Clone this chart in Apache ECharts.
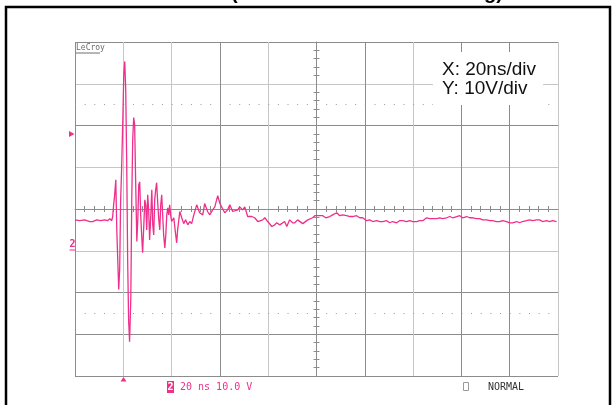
<!DOCTYPE html>
<html><head><meta charset="utf-8">
<script src="https://cdn.jsdelivr.net/npm/echarts@6/dist/echarts.min.js"></script>
<style>html,body{margin:0;padding:0;background:#fff}#c{width:615px;height:405px}</style>
</head><body><div id="c"></div>
<script>
// time (ns) and voltage (V) samples
const times = [0,1.9,4.0,6.1,7.3,9.0,10.6,12.3,13.5,14.4,15.2,15.6,16.0,16.4,16.9,17.3,17.7,18.1,18.5,18.9,19.3,19.8,20.2,20.6,21.0,21.4,21.8,22.2,22.6,23.1,23.5,23.9,24.3,24.7,25.1,25.6,26.0,26.4,26.8,27.2,27.6,28.0,28.5,28.9,29.3,29.7,30.1,30.5,30.9,31.4,31.8,32.2,32.6,33.0,33.4,33.8,34.3,34.7,35.1,35.5,35.9,36.3,36.7,37.2,37.6,38.0,38.4,38.8,39.2,39.6,40.0,40.9,41.7,42.1,42.5,43.4,44.2,45.0,45.8,46.7,47.5,48.3,49.2,50.4,51.6,52.9,53.7,54.9,55.8,57.0,57.9,59.1,59.9,60.7,62.0,63.2,64.1,65.3,66.1,67.4,68.2,69.4,70.3,71.5,73.2,74.4,75.7,76.5,77.7,78.6,79.8,81.5,82.7,83.5,84.8,85.6,86.8,87.7,88.9,90.1,91.0,92.2,93.0,94.3,95.1,96.4,97.2,98.4,99.3,100.1,101.3,102.6,103.8,105.5,106.7,108.4,109.6,110.8,112.5,113.8,115.0,116.6,117.9,119.1,120.8,122.0,123.3,124.9,126.2,127.4,129.1,130.3,131.5,133.2,134.4,135.7,137.3,138.6,139.8,141.5,142.7,144.0,145.6,146.9,148.1,149.8,151.0,152.3,153.9,155.2,156.4,158.1,159.3,160.5,162.2,163.4,164.7,166.3,167.6,168.8,170.5,171.7,172.9,174.6,175.8,177.1,178.7,180.0,181.2,182.9,184.1,185.3,187.0,188.2,189.5,191.1,192.4,193.6,195.3,196.5,197.8,199.4];
const volts = [-2.6,-2.8,-2.6,-3.0,-3.0,-2.6,-2.8,-2.6,-2.8,-2.3,-2.8,-1.8,1.0,3.2,7.0,-5.0,-12.1,-19.3,-14.5,2.2,9.4,21.4,32.2,35.3,28.6,11.8,-12.1,-26.5,-31.8,-21.7,2.2,16.6,21.9,20.2,7.0,-7.8,-2.6,5.8,6.5,-1.4,-6.2,-10.5,-3.8,2.2,1.0,-5.0,3.4,-0.2,-7.4,-1.4,4.6,-3.8,-6.2,2.2,4.6,6.3,1.0,-2.6,-5.0,1.0,3.4,-1.4,-6.2,-9.3,-6.2,-1.4,0.3,-1.4,1.0,-1.4,-3.0,-2.1,-6.2,-8.1,-5.0,-0.6,-2.1,-3.5,-2.6,-3.8,-3.0,-3.5,-1.4,1.0,-0.9,-1.4,1.3,-0.6,-1.4,-0.2,0.5,3.2,1.5,0.5,-0.9,-0.2,1.0,-0.6,-0.9,-0.2,0.5,-0.2,0.5,-1.8,-1.8,-2.1,-3.0,-3.3,-2.6,-2.1,-3.0,-4.2,-3.8,-3.3,-3.8,-3.8,-3.0,-4.2,-2.6,-3.3,-3.3,-2.6,-3.0,-3.5,-3.3,-2.6,-3.0,-2.1,-1.6,-1.4,-1.6,-1.6,-2.1,-1.8,-1.4,-0.9,-1.6,-1.4,-1.6,-1.8,-1.8,-1.6,-2.1,-2.1,-2.8,-2.6,-3.0,-2.8,-3.0,-3.0,-2.8,-3.3,-3.0,-3.3,-2.8,-2.8,-3.0,-2.8,-3.0,-3.0,-2.8,-2.8,-2.1,-2.3,-2.3,-2.3,-2.1,-2.3,-2.1,-1.8,-2.1,-1.8,-1.6,-2.1,-1.8,-2.1,-2.1,-2.3,-2.3,-2.6,-2.6,-2.8,-2.8,-3.0,-3.0,-2.8,-3.0,-3.3,-3.3,-3.0,-3.3,-3.0,-2.8,-2.6,-2.8,-2.6,-2.6,-3.0,-2.8,-3.0,-2.8,-3.0];
const dottedLevels = [25, -25];
const scaleText = ['X: 20ns/div', 'Y: 10V/div'];
const statusText = '20 ns 10.0 V';
const modeText = 'NORMAL';
const brandText = 'LeCroy';
const titleText = '(Drain at Turn-Off Switching)';

const D = '#8c8c8c', L = '#c6c6c6', PINK = '#ef2f8b';
const chart = echarts.init(document.getElementById('c'), null, {renderer: 'canvas'});
const data = times.map((t, i) => [t, volts[i]]);
const mono = '"DejaVu Sans Mono", monospace';

chart.setOption({
  animation: false,
  backgroundColor: '#ffffff',
  grid: {left: 75, top: 42, width: 483, height: 334, containLabel: false},
  xAxis: [
    {type: 'value', min: 0, max: 200, interval: 20, position: 'bottom',
     axisLine: {show: true, onZero: true, onZeroAxisIndex: 0, lineStyle: {color: D, width: 1}},
     axisTick: {show: false}, axisLabel: {show: false},
     minorTick: {show: true, splitNumber: 5, length: 3, lineStyle: {color: D, width: 1}},
     splitLine: {show: true, lineStyle: {color: [D, L, L, D, L, D, D, L, D, D, L], width: 1}}},
    {type: 'value', min: 0, max: 200, interval: 20, position: 'top',
     axisLine: {show: false, onZero: true, onZeroAxisIndex: 0},
     axisTick: {show: false}, axisLabel: {show: false},
     minorTick: {show: true, splitNumber: 5, length: 3, lineStyle: {color: D, width: 1}},
     splitLine: {show: false}}
  ],
  yAxis: [
    {type: 'value', min: -40, max: 40, interval: 10, position: 'left', offset: -241.5,
     axisLine: {show: true, onZero: false, lineStyle: {color: D, width: 1}},
     axisTick: {show: false}, axisLabel: {show: false},
     minorTick: {show: true, splitNumber: 5, length: 3, lineStyle: {color: D, width: 1}},
     splitLine: {show: true, lineStyle: {color: [D, D, D, L, D, L, D, L, D], width: 1}}},
    {type: 'value', min: -40, max: 40, interval: 10, position: 'right', offset: -241.5,
     axisLine: {show: false, onZero: false},
     axisTick: {show: false}, axisLabel: {show: false},
     minorTick: {show: true, splitNumber: 5, length: 3, lineStyle: {color: D, width: 1}},
     splitLine: {show: false}}
  ],
  series: [{
    type: 'line', data: data, xAxisIndex: 0, yAxisIndex: 0,
    showSymbol: false, symbol: 'none', smooth: false,
    lineStyle: {color: PINK, width: 1.3}, z: 5,
    markLine: {silent: true, symbol: 'none', label: {show: false},
      lineStyle: {color: '#9a9a9a', width: 1, type: [1, 8.66]},
      data: dottedLevels.map(v => ({yAxis: v}))}
  }],
  graphic: [
    {type: 'rect', shape: {x: 6, y: 7, width: 604, height: 420}, style: {fill: 'none', stroke: '#000', lineWidth: 2.5}, z: 100},
    {type: 'text', x: 367, y: -7, style: {text: titleText, font: 'bold 20px "Liberation Sans", Arial', fill: '#000', align: 'center', verticalAlign: 'middle'}, z: 100},
    {type: 'rect', shape: {x: 433, y: 52, width: 110, height: 53}, style: {fill: '#fff'}, z: 100},
    {type: 'text', x: 442, y: 70, style: {text: scaleText[0], font: '19px "Liberation Sans", Arial', fill: '#111', verticalAlign: 'middle'}, z: 101},
    {type: 'text', x: 442, y: 89, style: {text: scaleText[1], font: '19px "Liberation Sans", Arial', fill: '#111', verticalAlign: 'middle'}, z: 101},
    {type: 'text', x: 76, y: 48, style: {text: brandText, font: '8px ' + mono, fill: '#6e6e6e', verticalAlign: 'middle'}, z: 101},
    {type: 'line', shape: {x1: 76, y1: 53, x2: 100, y2: 53}, style: {stroke: '#6e6e6e', lineWidth: 1}, z: 101},
    {type: 'polygon', shape: {points: [[69, 131], [69, 137], [74.5, 134]]}, style: {fill: PINK}, z: 101},
    {type: 'text', x: 72.5, y: 244, style: {text: '2', font: 'bold 10px ' + mono, fill: PINK, align: 'center', verticalAlign: 'middle'}, z: 101},
    {type: 'line', shape: {x1: 69.5, y1: 250, x2: 75.5, y2: 250}, style: {stroke: PINK, lineWidth: 1}, z: 101},
    {type: 'polygon', shape: {points: [[120.5, 381.5], [126.5, 381.5], [123.5, 377]]}, style: {fill: PINK}, z: 101},
    {type: 'rect', shape: {x: 167, y: 381, width: 7, height: 12}, style: {fill: PINK}, z: 101},
    {type: 'text', x: 170.5, y: 387.5, style: {text: '2', font: 'bold 10px ' + mono, fill: '#fff', align: 'center', verticalAlign: 'middle'}, z: 102},
    {type: 'text', x: 180, y: 387, style: {text: statusText, font: '10px ' + mono, fill: PINK, verticalAlign: 'middle'}, z: 101},
    {type: 'rect', shape: {x: 463.5, y: 382.5, width: 5, height: 8}, style: {fill: 'none', stroke: '#9a9a9a', lineWidth: 1}, z: 101},
    {type: 'text', x: 488, y: 387, style: {text: modeText, font: '10px ' + mono, fill: '#333', verticalAlign: 'middle'}, z: 101}
  ]
});
</script></body></html>
